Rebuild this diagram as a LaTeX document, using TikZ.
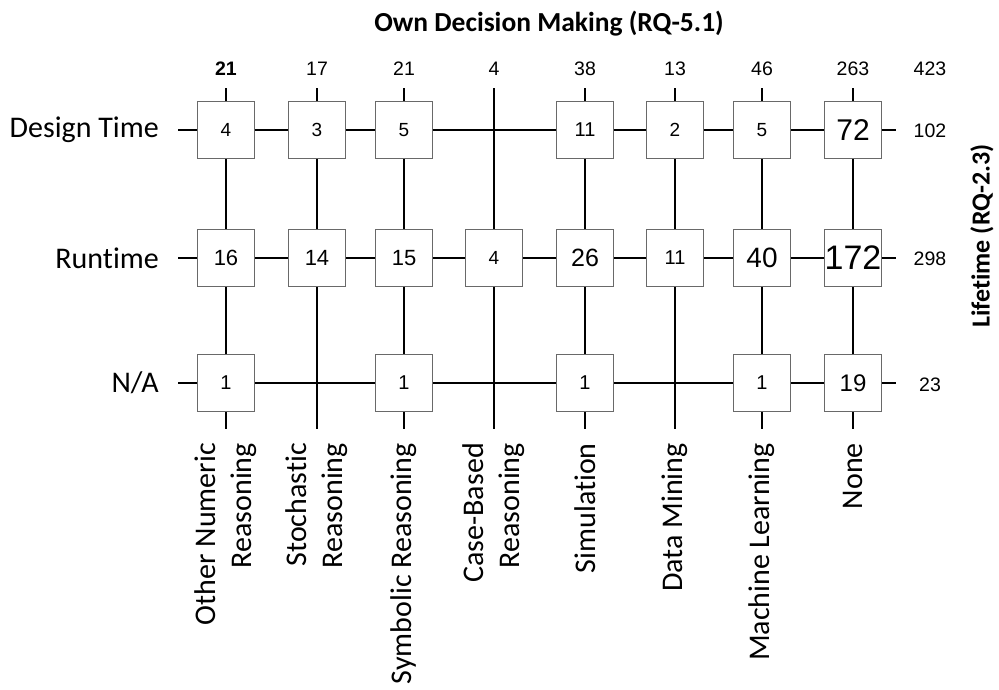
\documentclass[tikz,border=0pt]{standalone}
\usepackage{fontspec}
\setmainfont{Carlito}[Ligatures={NoCommon}]
\newfontfamily\arial{Liberation Sans}
\begin{document}
\begin{tikzpicture}[x=1pt,y=-1pt,
  cell/.style={draw={rgb,255:red,105;green,105;blue,105}, line width=1.2pt, fill=white,
    minimum width=57pt, minimum height=57pt, inner sep=0pt, font=\arial},
  thickln/.style={line width=2.2pt, black},
  thinln/.style={line width=1.2pt, black},
  toplbl/.style={font=\arial\fontsize{19.5}{22}\selectfont},
  rowlbl/.style={anchor=east, inner sep=0pt, font=\fontsize{30}{36}\selectfont},
  collbl/.style={anchor=east, inner sep=0pt, rotate=90, align=right, font=\fontsize{30}{36}\selectfont},
  bold/.style={font=\bfseries\fontsize{26}{30}\selectfont}]
\useasboundingbox (0,0) rectangle (999,689);
% title
\node[font=\bfseries\fontsize{27.5}{30}\selectfont] (title) at (549,24) {Own Decision Making (RQ-5.1)};
\node[bold, rotate=90] (life) at (982,236) {Lifetime (RQ-2.3)};
% Row labels
\node[rowlbl] (lblD) at (159,130) {Design Time};
\node[rowlbl] (lblR) at (159,258) {Runtime};
\node[rowlbl] (lblN) at (159,383) {N/A};
% Row end coordinates
\coordinate (lD) at (178,130); \coordinate (rD) at (896,130);
\coordinate (lR) at (178,258); \coordinate (rR) at (896,258);
\coordinate (lN) at (178,383); \coordinate (rN) at (896,383);
% Column top/bottom coordinates
\foreach \i/\x in {1/226,2/317,3/404,4/494,5/585,6/675,7/762,8/853}{
  \coordinate (t\i) at (\x,88);
  \coordinate (b\i) at (\x,429);
}
% Top totals
\node[font=\arial\bfseries\fontsize{19.5}{22}\selectfont] (s1) at (226,69) {21};
\node[toplbl] (s2) at (317,69) {17};
\node[toplbl] (s3) at (404,69) {21};
\node[toplbl] (s4) at (494,69) {4};
\node[toplbl] (s5) at (585,69) {38};
\node[toplbl] (s6) at (675,69) {13};
\node[toplbl] (s7) at (762,69) {46};
\node[toplbl] (s8) at (853,69) {263};
\node[toplbl] (s9) at (930,69) {423};
% Row totals
\node[toplbl] (tD) at (930,131) {102};
\node[toplbl] (tR) at (930,259) {298};
\node[toplbl] (tN) at (930,385) {23};
% Design time row
\node[cell, font=\arial\fontsize{19}{20}\selectfont] (d1) at (226,130) {4};
\node[cell, font=\arial\fontsize{19}{20}\selectfont] (d2) at (317,130) {3};
\node[cell, font=\arial\fontsize{19}{20}\selectfont] (d3) at (404,130) {5};
\coordinate (d4) at (494,130);
\node[cell, font=\arial\fontsize{20}{20}\selectfont] (d5) at (585,130) {11};
\node[cell, font=\arial\fontsize{19}{20}\selectfont] (d6) at (675,130) {2};
\node[cell, font=\arial\fontsize{19}{20}\selectfont] (d7) at (762,130) {5};
\node[cell, font=\arial\fontsize{30}{30}\selectfont] (d8) at (853,130) {72};
% Runtime row
\node[cell, font=\arial\fontsize{22}{22}\selectfont] (r1) at (226,258) {16};
\node[cell, font=\arial\fontsize{22}{22}\selectfont] (r2) at (317,258) {14};
\node[cell, font=\arial\fontsize{22}{22}\selectfont] (r3) at (404,258) {15};
\node[cell, font=\arial\fontsize{19}{20}\selectfont] (r4) at (494,258) {4};
\node[cell, font=\arial\fontsize{25}{26}\selectfont] (r5) at (585,258) {26};
\node[cell, font=\arial\fontsize{20}{20}\selectfont] (r6) at (675,258) {11};
\node[cell, font=\arial\fontsize{28}{28}\selectfont] (r7) at (762,258) {40};
\node[cell, font=\arial\fontsize{34}{34}\selectfont] (r8) at (853,258) {172};
% N/A row
\node[cell, font=\arial\fontsize{20}{20}\selectfont] (n1) at (226,383) {1};
\coordinate (n2) at (317,383);
\node[cell, font=\arial\fontsize{20}{20}\selectfont] (n3) at (404,383) {1};
\coordinate (n4) at (494,383);
\node[cell, font=\arial\fontsize{20}{20}\selectfont] (n5) at (585,383) {1};
\coordinate (n6) at (675,383);
\node[cell, font=\arial\fontsize{20}{20}\selectfont] (n7) at (762,383) {1};
\node[cell, font=\arial\fontsize{24}{24}\selectfont] (n8) at (853,383) {19};
% Row lines
\draw[thickln] (lD) -- (d1) -- (d2) -- (d3) -- (d5) (d5) -- (d6) -- (d7) -- (d8) -- (rD);
\draw[thinln] (lR) -- (r1) -- (r2) -- (r3) -- (r4) -- (r5) -- (r6) -- (r7) -- (r8) -- (rR);
\draw[thickln] (lN) -- (n1) -- (n3) -- (n5) -- (n7) -- (n8) -- (rN);
% Column lines
\draw[thinln] (t1) -- (d1) -- (r1) -- (n1) -- (b1);
\draw[thickln] (t2) -- (d2) -- (r2) -- (b2);
\draw[thickln] (t3) -- (d3) -- (r3) -- (n3) -- (b3);
\draw[thickln] (t4) -- (r4) -- (b4);
\draw[thinln] (t5) -- (d5) -- (r5) -- (n5) -- (b5);
\draw[thinln] (t6) -- (d6) -- (r6) -- (b6);
\draw[thinln] (t7) -- (d7) -- (r7) -- (n7) -- (b7);
\draw[thickln] (t8) -- (d8) -- (r8) -- (n8) -- (b8);
% Column labels
\node[collbl] (c1) at (226,443) {Other Numeric\\Reasoning};
\node[collbl] (c2) at (317,443) {Stochastic\\Reasoning};
\node[collbl] (c3) at (404,443) {Symbolic Reasoning};
\node[collbl] (c4) at (494,443) {Case-Based\\Reasoning};
\node[collbl] (c5) at (585,443) {Simulation};
\node[collbl] (c6) at (675,443) {Data Mining};
\node[collbl] (c7) at (762,443) {Machine Learning};
\node[collbl] (c8) at (853,443) {None};
\end{tikzpicture}
\end{document}
